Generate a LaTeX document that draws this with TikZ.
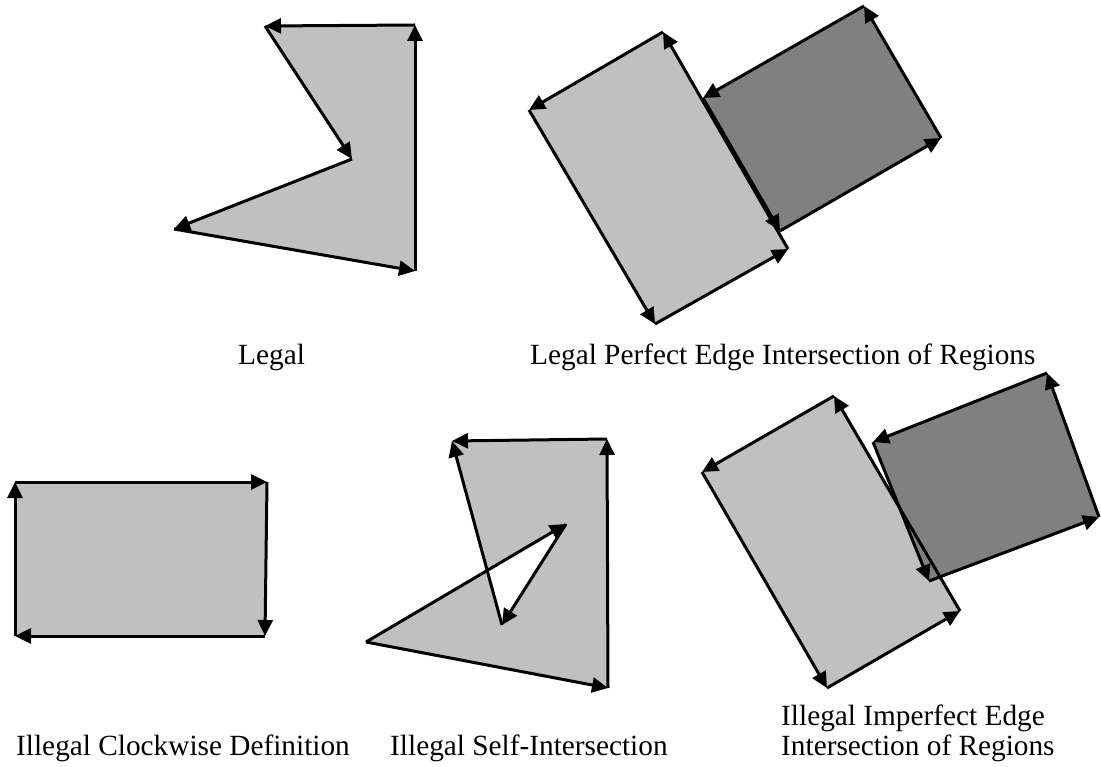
\documentclass[tikz,border=0pt]{standalone}
\usepackage{fontspec}
\setmainfont{Liberation Serif}
\usetikzlibrary{arrows.meta}
\definecolor{lightfill}{HTML}{C0C0C0}
\definecolor{darkfill}{HTML}{808080}
\tikzset{
  vec/.style={line width=3pt, -{Triangle[length=16pt,width=15pt]}},
  caption/.style={anchor=base west, inner sep=0pt,
    font=\fontsize{29.3}{34}\selectfont},
}
\begin{document}
\begin{tikzpicture}[x=1pt,y=-1pt]
\useasboundingbox (0,0) rectangle (1101,767);

% ---- Legal polygon (counter-clockwise, with a notch)
\coordinate (lgA) at (265,26);
\coordinate (lgB) at (415,25);
\coordinate (lgC) at (415,271);
\coordinate (lgD) at (174,229);
\coordinate (lgE) at (352,159);

% ---- Two regions sharing an edge exactly
\coordinate (pa1) at (663,32);
\coordinate (pa2) at (529,110);
\coordinate (pa3) at (655,324);
\coordinate (pa4) at (788,249);
\coordinate (pb1) at (864,6);
\coordinate (pb2) at (703,98);
\coordinate (pb3) at (780,231);
\coordinate (pb4) at (941,138);

% ---- Rectangle defined clockwise
\coordinate (cwTL) at (15,482);
\coordinate (cwTR) at (267,482);
\coordinate (cwBR) at (265,636);
\coordinate (cwBL) at (15,636);

% ---- Self-intersecting polygon
\coordinate (siA) at (452,441);
\coordinate (siB) at (607,439);
\coordinate (siC) at (608,688);
\coordinate (siD) at (366,642);
\coordinate (siE) at (566,524);
\coordinate (siF) at (502,625);

% ---- Two regions overlapping along a skewed edge
\coordinate (ia1) at (834,396);
\coordinate (ia2) at (702,472);
\coordinate (ia3) at (827,688);
\coordinate (ia4) at (960,611);
\coordinate (ib1) at (1047,373);
\coordinate (ib2) at (873,442);
\coordinate (ib3) at (929,581);
\coordinate (ib4) at (1099,517);

% fills
\fill[lightfill] (lgB) -- (lgA) -- (lgE) -- (lgD) -- (lgC) -- cycle;
\fill[lightfill] (pa1) -- (pa2) -- (pa3) -- (pa4) -- cycle;
\fill[darkfill]  (pb1) -- (pb2) -- (pb3) -- (pb4) -- cycle;
\fill[lightfill] (cwTL) -- (cwTR) -- (cwBR) -- (cwBL) -- cycle;
\fill[lightfill, even odd rule] (siB) -- (siA) -- (siF) -- (siE) -- (siD) -- (siC) -- cycle;
\fill[lightfill] (ia1) -- (ia2) -- (ia3) -- (ia4) -- cycle;
\fill[darkfill]  (ib1) -- (ib2) -- (ib3) -- (ib4) -- cycle;

% directed edges
\draw[vec] (lgB) -- (lgA);
\draw[vec] (lgA) -- (lgE);
\draw[vec] (lgE) -- (lgD);
\draw[vec] (lgD) -- (lgC);
\draw[vec] (lgC) -- (lgB);

\draw[vec] (pa1) -- (pa2);
\draw[vec] (pa2) -- (pa3);
\draw[vec] (pa3) -- (pa4);
\draw[vec] (pa4) -- (pa1);
\draw[vec] (pb1) -- (pb2);
\draw[vec] (pb2) -- (pb3);
\draw[vec] (pb3) -- (pb4);
\draw[vec] (pb4) -- (pb1);

\draw[vec] (cwTL) -- (cwTR);
\draw[vec] (cwTR) -- (cwBR);
\draw[vec] (cwBR) -- (cwBL);
\draw[vec] (cwBL) -- (cwTL);

\draw[vec] (siB) -- (siA);
\draw[vec] (siF) -- (siA);
\draw[vec] (siE) -- (siF);
\draw[vec] (siD) -- (siE);
\draw[vec] (siD) -- (siC);
\draw[vec] (siC) -- (siB);

\draw[vec] (ia1) -- (ia2);
\draw[vec] (ia2) -- (ia3);
\draw[vec] (ia3) -- (ia4);
\draw[vec] (ia4) -- (ia1);
\draw[vec] (ib1) -- (ib2);
\draw[vec] (ib2) -- (ib3);
\draw[vec] (ib3) -- (ib4);
\draw[vec] (ib4) -- (ib1);

% captions
\node[caption] (capLegal) at (238,365) {Legal};
\node[caption] (capPerfect) at (530,365) {Legal Perfect Edge Intersection of Regions};
\node[caption] (capClock) at (16,755) {Illegal Clockwise Definition};
\node[caption] (capSelf) at (390,755) {Illegal Self-Intersection};
\node[caption] (capImpA) at (781,725) {Illegal Imperfect Edge};
\node[caption] (capImpB) at (781,755) {Intersection of Regions};
\end{tikzpicture}
\end{document}
